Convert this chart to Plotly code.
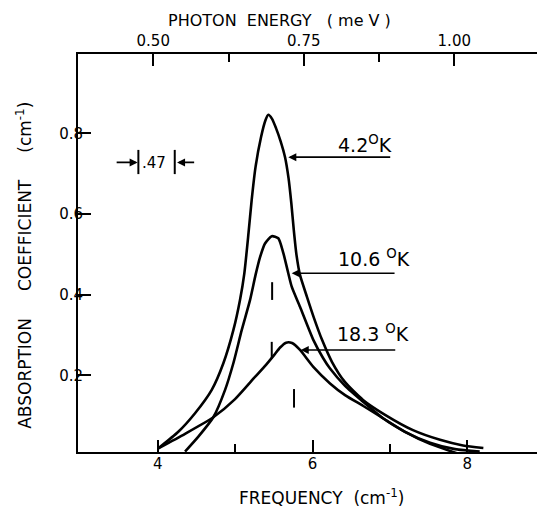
import plotly.graph_objects as go

# ---------------- data ----------------
freq_4K = [4.008, 4.266, 4.482, 4.698, 4.848, 4.977, 5.063, 5.119, 5.173, 5.214, 5.264, 5.335, 5.393, 5.429,
           5.477, 5.528, 5.587, 5.645, 5.690, 5.726, 5.758, 5.793, 5.838, 5.929, 6.019, 6.123, 6.252, 6.420,
           6.652, 6.937, 7.298, 7.647, 7.944, 8.207]
abs_4K = [0.019, 0.060, 0.106, 0.164, 0.230, 0.312, 0.387, 0.453, 0.553, 0.635, 0.717, 0.791, 0.833, 0.846,
          0.836, 0.813, 0.781, 0.741, 0.689, 0.627, 0.560, 0.498, 0.449, 0.394, 0.342, 0.288, 0.233, 0.183,
          0.139, 0.102, 0.064, 0.040, 0.026, 0.020]

freq_10K = [4.353, 4.525, 4.718, 4.870, 4.977, 5.085, 5.193, 5.264, 5.322, 5.386, 5.473, 5.558, 5.623, 5.677,
            5.731, 5.838, 6.010, 6.136, 6.226, 6.420, 6.656, 6.915, 7.195, 7.518, 7.863]
abs_10K = [0.011, 0.048, 0.096, 0.164, 0.230, 0.312, 0.387, 0.449, 0.493, 0.527, 0.545, 0.540, 0.503, 0.461,
           0.420, 0.370, 0.288, 0.243, 0.217, 0.174, 0.134, 0.093, 0.060, 0.030, 0.007]

freq_18K = [4.008, 4.353, 4.718, 4.999, 5.257, 5.399, 5.503, 5.581, 5.658, 5.735, 5.838, 6.010, 6.226, 6.420,
            6.656, 6.915, 7.195, 7.518, 7.841, 8.160]
abs_18K = [0.019, 0.055, 0.096, 0.141, 0.196, 0.226, 0.250, 0.269, 0.281, 0.280, 0.263, 0.221, 0.180, 0.151,
           0.124, 0.093, 0.060, 0.033, 0.017, 0.011]

labels = ["4.2<sup>O</sup>K", "10.6 <sup>O</sup>K", "18.3 <sup>O</sup>K"]

# short vertical marks drawn on the curves
mark_freq = [5.478, 5.473, 5.761]
mark_lo = [0.387, 0.242, 0.120]
mark_hi = [0.431, 0.283, 0.166]

# bottom / top / left ticks
freq_ticks = [4, 6, 8]
freq_minor = [5, 7]
energy_ticks = [0.50, 0.75, 1.00]
energy_ticktext = ["0.50", "0.75", "1.00"]
energy_minor = [0.625, 0.875]
abs_ticks = [0.2, 0.4, 0.6, 0.8]
abs_ticktext = ["0.2", "0.4", "0.6", "0.8"]

resolution = 0.47
res_center = 3.985

FONT = "DejaVu Sans"
fig = go.Figure()

line = dict(color="black", width=2.6, shape="spline", smoothing=0.6)
for fx, ay in [(freq_4K, abs_4K), (freq_10K, abs_10K), (freq_18K, abs_18K)]:
    fig.add_trace(go.Scatter(x=fx, y=ay, mode="lines", line=line, showlegend=False, hoverinfo="skip"))

mx, my = [], []
for f, lo, hi in zip(mark_freq, mark_lo, mark_hi):
    mx += [f, f, None]
    my += [lo, hi, None]
fig.add_trace(go.Scatter(x=mx, y=my, mode="lines", line=dict(color="black", width=2),
                         showlegend=False, hoverinfo="skip"))

# empty trace so the top (photon energy) axis is drawn
fig.add_trace(go.Scatter(x=[], y=[], xaxis="x2", yaxis="y", showlegend=False))

# resolution bars
r0 = res_center - resolution / 2
r1 = res_center + resolution / 2
fig.add_trace(go.Scatter(x=[r0, r0, None, r1, r1], y=[0.699, 0.759, None, 0.699, 0.759], mode="lines",
                         line=dict(color="black", width=2), showlegend=False, hoverinfo="skip"))

ann = []
ann.append(dict(x=3.955, y=0.727, xref="x", yref="y", text=".47", showarrow=False,
                font=dict(family=FONT, size=15, color="black"), xanchor="center", yanchor="middle"))
ann.append(dict(x=r0 - 0.01, y=0.728, ax=r0 - 0.30, ay=0.728, xref="x", yref="y", axref="x", ayref="y",
                text="", showarrow=True, arrowhead=2, arrowsize=1, arrowwidth=1.6, arrowcolor="black"))
ann.append(dict(x=r1 + 0.03, y=0.728, ax=r1 + 0.27, ay=0.728, xref="x", yref="y", axref="x", ayref="y",
                text="", showarrow=True, arrowhead=2, arrowsize=1, arrowwidth=1.6, arrowcolor="black"))

label_pos = [(6.30, 0.738, 5.687, 0.741, 7.023), (6.30, 0.457, 5.731, 0.453, 7.079),
             (6.285, 0.271, 5.848, 0.263, 7.088)]
for txt, (tx, ty, hx, hy, tail) in zip(labels, label_pos):
    ann.append(dict(x=tx, y=ty, xref="x", yref="y", text=txt, showarrow=False,
                    font=dict(family=FONT, size=19, color="black"), xanchor="left", yanchor="bottom"))
    ann.append(dict(x=hx, y=hy, ax=tail, ay=hy, xref="x", yref="y", axref="x", ayref="y", text="",
                    showarrow=True, arrowhead=2, arrowsize=1, arrowwidth=1.6, arrowcolor="black"))

# axis titles (placed as annotations to match the reference positions)
ann.append(dict(x=0.439, y=1.083, xref="paper", yref="paper", showarrow=False,
                text="PHOTON\u00a0\u00a0ENERGY\u00a0\u00a0\u00a0(\u00a0me\u00a0V\u00a0)",
                font=dict(family=FONT, size=16, color="black"), xanchor="center", yanchor="middle"))
ann.append(dict(x=0.531, y=-0.114, xref="paper", yref="paper", showarrow=False,
                text="FREQUENCY\u00a0\u00a0(cm<sup>-1</sup>)",
                font=dict(family=FONT, size=17, color="black"), xanchor="center", yanchor="middle"))
ann.append(dict(x=-0.118, y=0.47, xref="paper", yref="paper", showarrow=False, textangle=-90,
                text="ABSORPTION\u00a0\u00a0\u00a0\u00a0\u00a0COEFFICIENT\u00a0\u00a0\u00a0\u00a0\u00a0(cm<sup>-1</sup>)",
                font=dict(family=FONT, size=17, color="black"), xanchor="center", yanchor="middle"))

axis_common = dict(showline=True, linecolor="black", linewidth=2, showgrid=False, zeroline=False,
                   ticks="inside", tickcolor="black", tickwidth=2,
                   tickfont=dict(family=FONT, size=15, color="black"))

fig.update_layout(
    width=537, height=508,
    margin=dict(l=78, r=0, t=54, b=56, autoexpand=False),
    paper_bgcolor="white", plot_bgcolor="white",
    font=dict(family=FONT, color="black"),
    annotations=ann,
    xaxis=dict(range=[2.97, 8.90], tickmode="array", tickvals=freq_ticks, ticklen=12,
               ticklabelstandoff=-3,
               minor=dict(tickmode="array", tickvals=freq_minor, ticks="inside", ticklen=8,
                          tickwidth=2, tickcolor="black"),
               automargin=False, **axis_common),
    xaxis2=dict(overlaying="x", side="top", range=[0.375, 1.1374], tickmode="array",
                tickvals=energy_ticks, ticktext=energy_ticktext, ticklen=12,
                minor=dict(tickmode="array", tickvals=energy_minor, ticks="inside", ticklen=8,
                           tickwidth=2, tickcolor="black"),
                automargin=False, **axis_common),
    yaxis=dict(range=[0.0099, 0.9968], tickmode="array", tickvals=abs_ticks, ticktext=abs_ticktext,
               ticklen=13, ticklabelstandoff=-10,
               automargin=False, **axis_common),
)

fig.write_html("out.html")
